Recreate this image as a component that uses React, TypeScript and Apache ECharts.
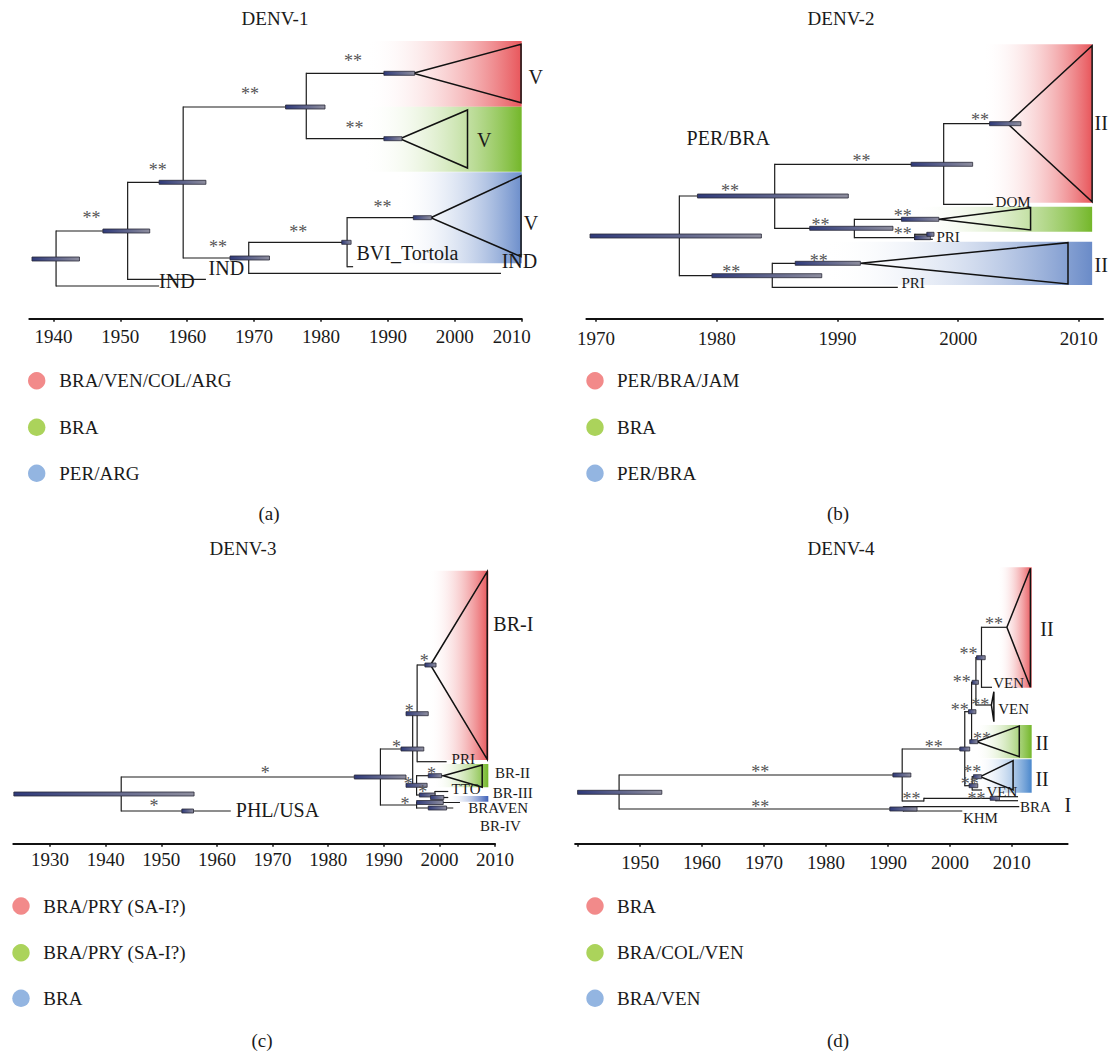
import React, { useEffect, useRef } from "react";
import * as echarts from "echarts";

const FONT = '"Liberation Serif", "Times New Roman", Times, serif';

// ---------------- DENV-1 (a) ----------------
const aTicks = [1940, 1950, 1960, 1970, 1980, 1990, 2000, 2010];
const aLabelTicks = [1940, 1950, 1960, 1970, 1980, 1990, 2000, 2010];
// horizontal branches: [row, fromYear, toYear]
const aHBranches = [
  [231, 1940.4, 1951.1], [286, 1940.4, 1955.8], [279.3, 1951.1, 1962.8], [182.3, 1951.1, 1959.4],
  [107, 1959.4, 1977.8], [73.3, 1977.8, 1993.8], [138.7, 1977.8, 1991.8], [258, 1959.4, 1969.2],
  [273.3, 1969.2, 2006.9], [242.3, 1969.2, 1983.9], [266.7, 1983.9, 1984.8], [217.7, 1983.9, 1996.4],
];
// vertical branches: [year, fromRow, toRow]
const aVBranches = [
  [1940.4, 231, 286], [1951.1, 182.3, 279.3], [1959.4, 107, 258], [1977.8, 73.3, 138.7],
  [1969.2, 242.3, 273.3], [1983.9, 217.7, 266.7],
];
// 95% HPD bars: [lowYear, highYear, row]
const aHpd = [
  [1936.8, 1943.9, 259], [1947.4, 1954.4, 231], [1955.8, 1962.8, 182.3], [1974.7, 1980.6, 107],
  [1989.4, 1994.0, 73.3], [1989.4, 1992.1, 138.7], [1966.4, 1972.3, 258], [1983.1, 1984.5, 242.3],
  [1993.8, 1996.5, 217.7],
];
// collapsed clades: [apexYear, apexRow, tipYear, topRow, bottomRow]
const aClades = [
  [1993.8, 73.3, 2009.9, 44.3, 102.7], [1991.8, 138.7, 2001.9, 110, 168], [1996.4, 217.7, 2009.9, 175.7, 256.7],
];
// lineage shading: [fromYear, toYear, topRow, bottomRow, lineage]
const aShade = [
  [1986.8, 2010, 41, 106.7, 0], [1986.3, 2010, 106.7, 171.7, 1], [1991.3, 2010, 172.3, 263.3, 2],
];
// posterior support marks: [year, row]
const aSupport = [
  [1945.7, 214.3], [1955.6, 166], [1969.4, 90], [1984.8, 56.7], [1985.0, 124.3], [1964.6, 243.3],
  [1976.6, 227.7], [1989.2, 202.7],
];
const aTipNames: any[] = [];
const aCladeNames = [
  [1955.8, 280.7, "IND"], [1963.2, 268.3, "IND"], [2007.0, 260.7, "IND"], [1985.3, 253.3, "BVI_Tortola"],
  [2011.0, 76.7, "V"], [2003.3, 140, "V"], [2010.3, 223.3, "V"],
];
const aLegend = ["BRA/VEN/COL/ARG", "BRA", "PER/ARG"];

// ---------------- DENV-2 (b) ----------------
const bTicks = [1970, 1980, 1990, 2000, 2010];
const bLabelTicks = [1970, 1980, 1990, 2000, 2010];
const bHBranches = [
  [196, 1976.9, 1984.8], [275.7, 1976.9, 1984.6], [164.3, 1984.8, 1998.8], [228.3, 1984.8, 1991.4],
  [123.7, 1998.8, 2004.1], [204.3, 1998.8, 2002.9], [219.3, 1991.4, 1998.4], [237.7, 1991.4, 1996.4],
  [234.3, 1996.4, 1997.9], [239.3, 1996.4, 1997.9], [263.3, 1984.6, 1991.9], [287.3, 1984.6, 1995.0],
];
const bVBranches = [
  [1976.9, 196, 275.7], [1984.8, 164.3, 228.3], [1998.8, 123.7, 204.3], [1991.4, 219.3, 237.7],
  [1996.4, 234.3, 239.3], [1984.6, 263.3, 287.3],
];
const bHpd = [
  [1969.5, 1983.7, 236], [1978.4, 1990.9, 196], [1996.1, 2001.2, 164.3], [2002.6, 2005.2, 123.7],
  [1987.7, 1994.6, 228.3], [1995.3, 1998.4, 219.3], [1996.4, 1997.7, 237.7], [1997.4, 1998.0, 234.3],
  [1979.6, 1988.7, 275.7], [1986.5, 1991.9, 263.3],
];
const bClades = [
  [2004.1, 123.7, 2011.1, 45.7, 201.7], [1998.4, 219.3, 2006.0, 207.7, 230], [1991.9, 263.3, 2009.1, 242.7, 284],
];
const bShade = [
  [2002.0, 2011.1, 44.3, 202.7, 0], [1996.3, 2011.1, 206.7, 231.7, 1], [1988.9, 2011.1, 241.7, 285, 2],
];
const bSupport = [
  [1981.1, 187.3], [1992.0, 156.7], [2001.8, 116], [1988.6, 220.7], [1995.4, 211.7], [1995.4, 230],
  [1981.2, 268.3], [1988.45, 256.7],
];
const bTipNames = [[2003.1, 201.7, "DOM"], [1998.2, 237.3, "PRI"], [1995.3, 283.3, "PRI"]];
const bCladeNames = [[1977.5, 138.3, "PER/BRA"], [2011.3, 123.3, "II"], [2011.3, 265, "II"]];
const bLegend = ["PER/BRA/JAM", "BRA", "PER/BRA"];

// ---------------- DENV-3 (c) ----------------
const cTicks = [1930, 1940, 1950, 1960, 1970, 1980, 1990, 2000, 2010];
const cLabelTicks = [1930, 1940, 1950, 1960, 1970, 1980, 1990, 2000, 2010];
const cHBranches = [
  [811, 1942.8, 1962.5], [777, 1942.8, 1989.4], [749, 1989.4, 1995.2], [805, 1989.4, 1995.9],
  [713.7, 1995.2, 1996.0], [785.3, 1995.2, 1995.9], [665, 1996.0, 1998.4], [761.7, 1996.0, 2001.3],
  [775.7, 1995.9, 2000.7], [795, 1995.9, 1999.2], [791.5, 1999.2, 2001.6], [797.5, 1999.2, 2001.6],
  [802.5, 1995.9, 2003.7], [808, 1995.9, 2002.5],
];
const cVBranches = [
  [1942.8, 777, 811], [1989.4, 749, 805], [1995.2, 713.7, 785.3], [1996.0, 665, 761.7],
  [1995.9, 775.7, 795], [1999.2, 791.5, 797.5], [1995.9, 802.5, 808],
];
const cHpd = [
  [1923.5, 1955.9, 794], [1953.7, 1955.8, 811], [1984.7, 1994.0, 777], [1993.1, 1997.2, 749],
  [1994.0, 1998.0, 713.7], [1997.4, 1999.4, 665], [1994.0, 1997.8, 785.3], [1998.0, 2000.4, 775.7],
  [1996.4, 1999.2, 795], [1998.4, 2000.8, 797.5], [1995.9, 2000.7, 802.5], [1998.0, 2001.3, 808],
];
const cClades = [[1998.4, 665, 2008.6, 571.7, 759.3], [2000.7, 775.7, 2007.7, 765, 787.3]];
const cShade = [
  [1998.0, 2008.8, 570.7, 760, 0], [1998.9, 2008.8, 764, 787.3, 1], [2001.3, 2008.8, 796, 801.7, 2],
];
const cSupport = [
  [1968.7, 769.3], [1948.7, 802.3], [1992.3, 742.7], [1994.6, 707.3], [1997.3, 657.3], [1994.4, 780],
  [1998.6, 770], [1997.0, 788.3], [1993.8, 800],
];
const cTipNames = [
  [2002.2, 759.3, "PRI"], [2002.2, 789.3, "TTO"], [2010.0, 772.7, "BR-II"], [2009.6, 793.3, "BR-III"],
  [2005.2, 808.3, "BRAVEN"], [2007.3, 826, "BR-IV"],
];
const cCladeNames = [[1963.4, 810, "PHL/USA"], [2009.7, 624, "BR-I"]];
const cLegend = ["BRA/PRY (SA-I?)", "BRA/PRY (SA-I?)", "BRA"];

// ---------------- DENV-4 (d) ----------------
const dTicks = [1940, 1950, 1960, 1970, 1980, 1990, 2000, 2010];
const dLabelTicks = [1950, 1960, 1970, 1980, 1990, 2000, 2010];
const dHBranches = [
  [775, 1946.6, 1992.3], [809, 1946.6, 1992.5], [806.7, 1992.5, 2011.2], [811, 1992.5, 2002.0],
  [801, 1992.3, 1995.8], [798.3, 1995.8, 2007.4], [796.7, 2007.4, 2011.0], [800.7, 2007.4, 2011.0],
  [749, 1992.3, 2002.4], [785.7, 2002.4, 2003.6], [776.7, 2003.6, 2004.9], [790, 2003.6, 2005.2],
  [711.7, 2002.4, 2003.5], [741.7, 2003.5, 2004.3], [682.3, 2003.5, 2004.2], [705, 2004.2, 2006.7],
  [657.7, 2004.2, 2005.1], [687.3, 2005.1, 2006.8], [627.3, 2005.1, 2009.2],
];
const dVBranches = [
  [1946.6, 775, 809], [1992.5, 806.7, 811], [1992.3, 749, 801], [1995.8, 798.3, 801],
  [2007.4, 796.7, 800.7], [2002.4, 711.7, 785.7], [2003.6, 776.7, 790], [2003.5, 682.3, 741.7],
  [2004.2, 657.7, 705], [2005.1, 627.3, 687.3],
];
const dHpd = [
  [1939.9, 1953.5, 792.3], [1990.8, 1993.7, 775], [1990.3, 1994.7, 809], [2006.5, 2008.0, 798.3],
  [2001.6, 2003.2, 749], [2003.1, 2004.5, 785.7], [2003.8, 2005.1, 776.7], [2003.0, 2004.2, 711.7],
  [2003.2, 2004.5, 741.7], [2003.6, 2004.6, 682.3], [2004.3, 2005.7, 657.7],
];
const dClades = [
  [2009.2, 627.3, 2013.0, 568.3, 687.3], [2004.3, 741.7, 2011.2, 726, 756.7],
  [2004.9, 776.7, 2010.2, 760.7, 790], [2006.7, 705, 2007.1, 691.7, 721.7],
];
const dShade = [
  [2007.7, 2013.2, 567.3, 687.7, 0], [2004.1, 2013.2, 725, 758.3, 1], [2004.3, 2013.2, 759.3, 792.7, 2],
];
const dSupport = [
  [2007.1, 620], [2003.0, 650], [2001.9, 677.7], [2004.9, 700.7], [2001.6, 705.7], [2005.2, 735],
  [1997.4, 742.7], [2003.6, 768.3], [2003.2, 780], [1993.8, 795], [2004.3, 795], [1969.4, 768.3],
  [1969.4, 803.3],
];
const dTipNames = [
  [2007.0, 683.3, "VEN"], [2007.8, 709.3, "VEN"], [2005.9, 791.5, "VEN"], [2011.3, 806.7, "BRA"],
  [2002.1, 818.3, "KHM"],
];
const dCladeNames = [[2014.6, 629.3, "II"], [2013.8, 742.7, "II"], [2013.8, 779.3, "II"], [2018.5, 805, "I"]];
const dLegend = ["BRA", "BRA/COL/VEN", "BRA/VEN"];

const titles = ["DENV-1", "DENV-2", "DENV-3", "DENV-4"];
const panelTags = ["(a)", "(b)", "(c)", "(d)"];
const legendColors = ["#F28A8A", "#ABD35B", "#93B5E1"];

const panels: any[] = [
  { h: aHBranches, v: aVBranches, hpd: aHpd, tri: aClades, shade: aShade, support: aSupport, mark: "**",
    tips: aTipNames, clades: aCladeNames, colors: ["#E8565B", "#74B72A", "#6C8ECB"], tipSize: 15, cladeSize: 20 },
  { h: bHBranches, v: bVBranches, hpd: bHpd, tri: bClades, shade: bShade, support: bSupport, mark: "**",
    tips: bTipNames, clades: bCladeNames, colors: ["#E8565B", "#74B72A", "#6A8BC8"], tipSize: 15, cladeSize: 20 },
  { h: cHBranches, v: cVBranches, hpd: cHpd, tri: cClades, shade: cShade, support: cSupport, mark: "*",
    tips: cTipNames, clades: cCladeNames, colors: ["#E8565B", "#74B72A", "#3D60B8"], tipSize: 15, cladeSize: 20 },
  { h: dHBranches, v: dVBranches, hpd: dHpd, tri: dClades, shade: dShade, support: dSupport, mark: "**",
    tips: dTipNames, clades: dCladeNames, colors: ["#E8565B", "#74B72A", "#4A87CC"], tipSize: 15, cladeSize: 20 },
];

const grids = [
  { left: 29.3, top: 30, width: 492.4, height: 288.7, min: 1936.4, max: 2010, ticks: aTicks, labels: aLabelTicks, margin: 8 },
  { left: 586.4, top: 30, width: 516.6, height: 288.7, min: 1969.2, max: 2012.0, ticks: bTicks, labels: bLabelTicks, margin: 10 },
  { left: 13.3, top: 560, width: 481.7, height: 283.7, min: 1923.4, max: 2010, ticks: cTicks, labels: cLabelTicks, margin: 6 },
  { left: 575.1, top: 560, width: 492.5, height: 283.7, min: 1939.5, max: 2019.0, ticks: dTicks, labels: dLabelTicks, margin: 9 },
];

const LINE = "#1c1c1c";

function panelSeries(i: number, p: any): any[] {
  const base: any = {
    type: "custom", coordinateSystem: "cartesian2d", xAxisIndex: i, yAxisIndex: i,
    silent: true, clip: false, animation: false,
  };
  const text = (x: number, y: number, t: string, size: number, color: string, align: string, dy: number) => ({
    type: "text", x, y: y + dy,
    style: { text: t, fill: color, font: `${size}px ${FONT}`, align, verticalAlign: "middle",
      textAlign: align, textVerticalAlign: "middle" },
  });
  return [
    { ...base, z: 1, data: p.shade.map((s: number[]) => [s[0], s[2]]),
      renderItem: (params: any, api: any) => {
        const s = p.shade[params.dataIndex];
        const a = api.coord([s[0], s[2]]);
        const b = api.coord([s[1], s[3]]);
        return { type: "rect", shape: { x: a[0], y: a[1], width: b[0] - a[0], height: b[1] - a[1] },
          style: { fill: new echarts.graphic.LinearGradient(0, 0, 1, 0, [
            { offset: 0, color: "rgba(255,255,255,0)" }, { offset: 1, color: p.colors[s[4]] }]) } };
      } },
    { ...base, z: 2, data: p.tri.map((s: number[]) => [s[0], s[1]]),
      renderItem: (params: any, api: any) => {
        const s = p.tri[params.dataIndex];
        const a = api.coord([s[0], s[1]]);
        const b = api.coord([s[2], s[3]]);
        const c = api.coord([s[2], s[4]]);
        return { type: "polygon", shape: { points: [a, b, c] },
          style: { fill: "none", stroke: "#111", lineWidth: 1.5 } };
      } },
    { ...base, z: 3, data: p.h.map((s: number[]) => [s[1], s[0]]),
      renderItem: (params: any, api: any) => {
        const s = p.h[params.dataIndex];
        const a = api.coord([s[1], s[0]]);
        const b = api.coord([s[2], s[0]]);
        return { type: "line", shape: { x1: a[0], y1: a[1], x2: b[0], y2: b[1] },
          style: { stroke: LINE, lineWidth: 1.2 } };
      } },
    { ...base, z: 3, data: p.v.map((s: number[]) => [s[0], s[1]]),
      renderItem: (params: any, api: any) => {
        const s = p.v[params.dataIndex];
        const a = api.coord([s[0], s[1]]);
        const b = api.coord([s[0], s[2]]);
        return { type: "line", shape: { x1: a[0], y1: a[1] - 0.6, x2: b[0], y2: b[1] + 0.6 },
          style: { stroke: LINE, lineWidth: 1.2 } };
      } },
    { ...base, z: 4, data: p.hpd.map((s: number[]) => [s[0], s[2]]),
      renderItem: (params: any, api: any) => {
        const s = p.hpd[params.dataIndex];
        const a = api.coord([s[0], s[2]]);
        const b = api.coord([s[1], s[2]]);
        return { type: "rect", shape: { x: a[0], y: a[1] - 2, width: b[0] - a[0], height: 4 },
          style: { fill: new echarts.graphic.LinearGradient(0, 0, 1, 0, [
            { offset: 0, color: "#2F3A7A" }, { offset: 1, color: "#8E8E9E" }]),
            stroke: "#2a2a38", lineWidth: 0.8 } };
      } },
    { ...base, z: 5, data: p.support.map((s: number[]) => [s[0], s[1]]),
      renderItem: (params: any, api: any) => {
        const s = p.support[params.dataIndex];
        const a = api.coord([s[0], s[1]]);
        return text(a[0], a[1], p.mark, 18, "#555", "center", 4);
      } },
    { ...base, z: 6, data: p.tips.map((s: any[]) => [s[0], s[1]]),
      renderItem: (params: any, api: any) => {
        const s = p.tips[params.dataIndex];
        const a = api.coord([s[0], s[1]]);
        return text(a[0], a[1], s[2], p.tipSize, "#1a1a1a", "left", 0);
      } },
    { ...base, z: 6, data: p.clades.map((s: any[]) => [s[0], s[1]]),
      renderItem: (params: any, api: any) => {
        const s = p.clades[params.dataIndex];
        const a = api.coord([s[0], s[1]]);
        return text(a[0], a[1], s[2], p.cladeSize, "#1a1a1a", "left", 0);
      } },
  ];
}

function buildOption(): any {
  const legendPos = [
    { cx: 36.7, tx: 59.3, ys: [380.7, 427.3, 473.3], items: aLegend },
    { cx: 595, tx: 617, ys: [380.7, 427.3, 473.3], items: bLegend },
    { cx: 21, tx: 43.3, ys: [906, 952.7, 998.3], items: cLegend },
    { cx: 595, tx: 617, ys: [906, 952.7, 998.3], items: dLegend },
  ];
  const titlePos = [[275, 18], [841, 18], [243, 548], [841, 548]];
  const tagPos = [[269, 513], [838, 513], [262, 1040], [838, 1040]];
  const graphics: any[] = [];
  legendPos.forEach((L) => {
    L.items.forEach((name, k) => {
      graphics.push({ type: "circle", shape: { cx: L.cx, cy: L.ys[k], r: 8.7 }, style: { fill: legendColors[k] }, silent: true });
      graphics.push({ type: "text", x: L.tx, y: L.ys[k], silent: true,
        style: { text: name, fill: "#1a1a1a", font: `19px ${FONT}`, textAlign: "left", textVerticalAlign: "middle" } });
    });
  });
  titles.forEach((t, k) => graphics.push({ type: "text", x: titlePos[k][0], y: titlePos[k][1], silent: true,
    style: { text: t, fill: "#1a1a1a", font: `19px ${FONT}`, textAlign: "center", textVerticalAlign: "middle" } }));
  panelTags.forEach((t, k) => graphics.push({ type: "text", x: tagPos[k][0], y: tagPos[k][1], silent: true,
    style: { text: t, fill: "#1a1a1a", font: `19px ${FONT}`, textAlign: "center", textVerticalAlign: "middle" } }));

  return {
    animation: false,
    backgroundColor: "#ffffff",
    grid: grids.map((g) => ({ left: g.left, top: g.top, width: g.width, height: g.height, containLabel: false })),
    xAxis: grids.map((g, i) => ({
      gridIndex: i, type: "value", min: g.min, max: g.max,
      axisLine: { show: true, onZero: false, lineStyle: { color: "#111", width: 2 } },
      axisTick: { show: true, customValues: g.ticks, length: 3, lineStyle: { color: "#111", width: 1.5 } },
      axisLabel: {
        customValues: g.labels, margin: g.margin, color: "#1a1a1a", fontFamily: FONT, fontSize: 19,
        formatter: (v: number) => (i === 0 && v === 2010 ? "{e|" + v + "}" : String(v)),
        rich: { e: { padding: [0, 20, 0, 0], fontFamily: FONT, fontSize: 19, color: "#1a1a1a" } },
      },
      splitLine: { show: false },
    })),
    yAxis: grids.map((g, i) => ({
      gridIndex: i, type: "value", inverse: true, min: g.top, max: g.top + g.height, show: false,
    })),
    graphic: { elements: graphics },
    series: panels.flatMap((p, i) => panelSeries(i, p)),
  };
}

export default function App() {
  const ref = useRef<HTMLDivElement>(null);
  useEffect(() => {
    document.body.style.margin = "0";
    const chart = echarts.init(ref.current as HTMLDivElement, undefined, { renderer: "svg" });
    chart.setOption(buildOption());
    return () => chart.dispose();
  }, []);
  return <div ref={ref} style={{ width: 1108, height: 1051, background: "#fff" }} />;
}
